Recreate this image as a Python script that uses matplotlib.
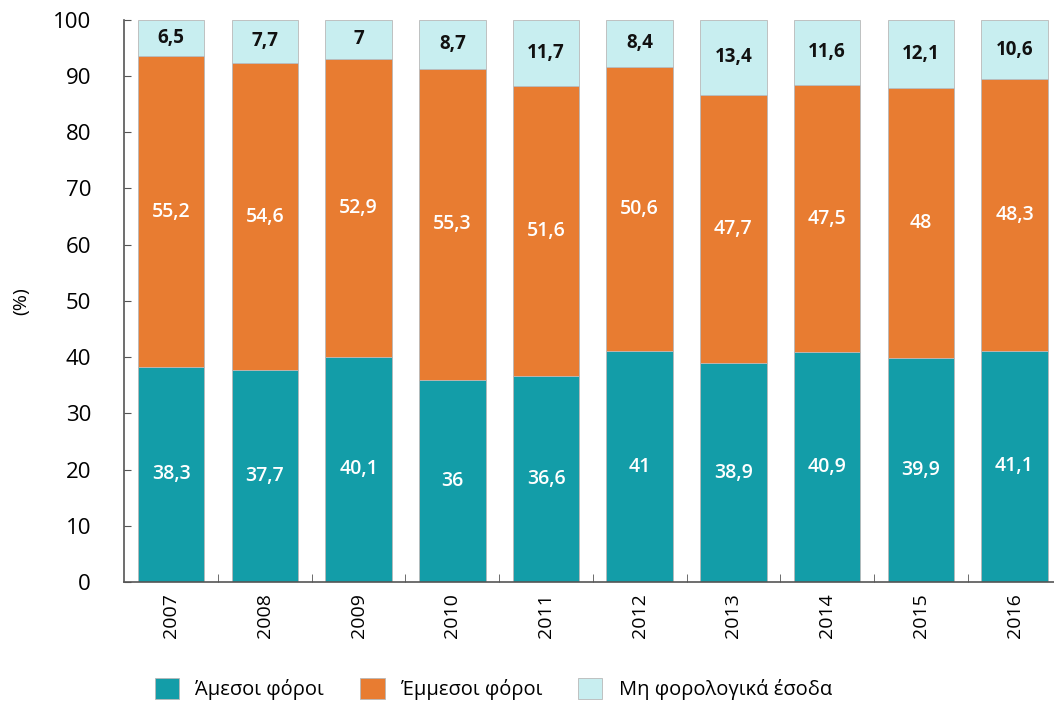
import numpy as np
import matplotlib.pyplot as plt

plt.rcParams['font.family'] = ['Open Sans', 'DejaVu Sans']

years = ['2007', '2008', '2009', '2010', '2011', '2012', '2013', '2014', '2015', '2016']
direct_tax = [38.3, 37.7, 40.1, 36, 36.6, 41, 38.9, 40.9, 39.9, 41.1]
indirect_tax = [55.2, 54.6, 52.9, 55.3, 51.6, 50.6, 47.7, 47.5, 48, 48.3]
non_tax = [6.5, 7.7, 7, 8.7, 11.7, 8.4, 13.4, 11.6, 12.1, 10.6]
series_names = ['Άμεσοι φόροι', 'Έμμεσοι φόροι', 'Μη φορολογικά έσοδα']
colors = ['#139da8', '#e87c31', '#c8eef0']


def fmt(v):
    # greek style decimal comma
    return ('%g' % v).replace('.', ',')


fig = plt.figure(figsize=(10.54, 7.08), dpi=100)
ax = fig.add_axes([0.118, 0.178, 0.889, 0.794])

x = np.arange(len(years))
w = 0.71
bottom = np.zeros(len(years))
for vals, col, name in zip([direct_tax, indirect_tax, non_tax], colors, series_names):
    vals = np.array(vals, dtype=float)
    ax.bar(x, vals, w, bottom=bottom, color=col, edgecolor='#b8b8b8', linewidth=0.6, label=name)
    for xi, b, v in zip(x, bottom, vals):
        if col == colors[2]:
            ax.text(xi, b + v / 2, fmt(v), ha='center', va='center', fontsize=13.5,
                    fontweight='bold', color='#111111')
        else:
            ax.text(xi, b + v / 2, fmt(v), ha='center', va='center', fontsize=14,
                    fontweight='semibold', color='white')
    bottom += vals

ax.set_xlim(-0.5, 9.5)
ax.set_ylim(0, 100)
ax.set_yticks(range(0, 101, 10))
ax.set_xticks(x)
ax.set_xticklabels(years, rotation=90, fontsize=14)
ax.set_xticks(x[:-1] + 0.5, minor=True)
ax.tick_params(axis='x', which='major', length=0, pad=8)
ax.tick_params(axis='x', which='minor', direction='in', length=6, color='#555555')
ax.tick_params(axis='y', direction='in', length=5, labelsize=16, color='#555555', pad=24)
for s in ['top', 'right']:
    ax.spines[s].set_visible(False)
for s in ['left', 'bottom']:
    ax.spines[s].set_color('#555555')
    ax.spines[s].set_linewidth(1.2)
ax.set_ylabel('(%)', fontsize=14, labelpad=16)

fig.legend(loc='lower left', bbox_to_anchor=(0.13, -0.015), ncol=3, frameon=False,
           fontsize=14.5, handlelength=1.2, handleheight=1.2, columnspacing=1.8,
           handletextpad=0.8)

fig.savefig('out.png', dpi=100)
